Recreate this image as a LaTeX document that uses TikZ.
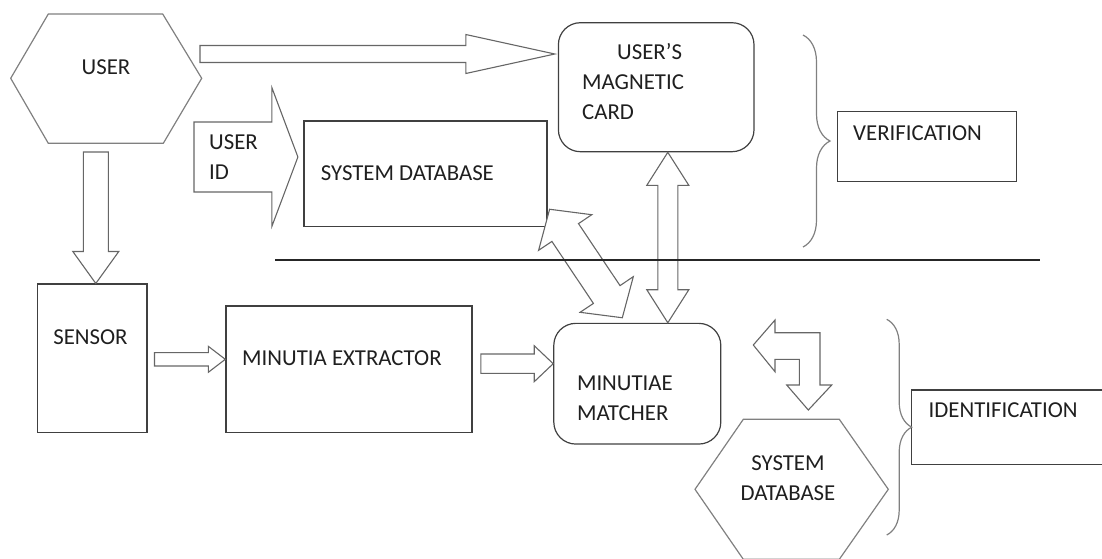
\documentclass[tikz,border=0pt]{standalone}
\usepackage{fontspec}
\setmainfont{Carlito}
\usetikzlibrary{positioning}
\usetikzlibrary{calc}
\usetikzlibrary{decorations.pathreplacing}

% hollow block arrow: tail, tip, shaft half width, head half width, head length
\newcommand{\fatarrow}[5]{%
  \path ($(#2)!#5!(#1)$) coordinate (fa-h);
  \draw[blockarrow] ($(#1)!#3!90:(#2)$) -- ($(fa-h)!#3!-90:(#1)$) -- ($(fa-h)!#4!-90:(#1)$) -- (#2)
    -- ($(fa-h)!#4!90:(#1)$) -- ($(fa-h)!#3!90:(#1)$) -- ($(#1)!#3!-90:(#2)$) -- cycle;
}
% same with a head at both ends
\newcommand{\fatdarrow}[5]{%
  \path ($(#1)!#5!(#2)$) coordinate (fa-a) ($(#2)!#5!(#1)$) coordinate (fa-b);
  \draw[blockarrow] (#1) -- ($(fa-a)!#4!90:(#2)$) -- ($(fa-a)!#3!90:(#2)$) -- ($(fa-b)!#3!-90:(#1)$)
    -- ($(fa-b)!#4!-90:(#1)$) -- (#2) -- ($(fa-b)!#4!90:(#1)$) -- ($(fa-b)!#3!90:(#1)$)
    -- ($(fa-a)!#3!-90:(#2)$) -- ($(fa-a)!#4!-90:(#2)$) -- cycle;
}

\begin{document}
\begin{tikzpicture}[x=1pt,y=-1pt,
    box/.style={draw=black!75, line width=1.2pt, inner sep=0pt},
    rbox/.style={box, rounded corners=22pt},
    txt/.style={text=black!88, font=\fontsize{22.8}{30}\selectfont, inner sep=0pt, align=left, anchor=west},
    blockarrow/.style={draw=black!60, line width=1.1pt, fill=white, line join=miter},
    hexline/.style={draw=black!50, line width=1.2pt},
    bracelines/.style={draw=black!50, line width=1.2pt, decorate}]
    \useasboundingbox (0,0) rectangle (1102,558);

    % user
    \draw[hexline] (10.7,78.3) -- (48.3,14) -- (162.7,14) -- (201.7,78.3) -- (163.3,143.3) -- (48.3,143.3) -- cycle;
    \node[txt, anchor=center] (user) at (106,66.7) {USER};

    % verification part
    \node[rbox, minimum width=195.6pt, minimum height=129pt] (card) at (656.2,87.2) {};
    \node[txt] (cardtext) at (582,81.7) {\hspace*{35pt}USER'S\\MAGNETIC\\CARD};
    \node[box, minimum width=243pt, minimum height=105.7pt] (sysdb) at (425.5,173.8) {};
    \node[txt] (sysdbtext) at (320.7,173) {SYSTEM DATABASE};
    \node[box, minimum width=179.4pt, minimum height=70.2pt] (verif) at (927,146.6) {};
    \node[txt] (veriftext) at (853,133.3) {VERIFICATION};

    % identification part
    \node[box, minimum width=109.5pt, minimum height=148.7pt] (sensor) at (92.3,358.4) {};
    \node[txt, anchor=center] (sensortext) at (90.5,337.3) {SENSOR};
    \node[box, minimum width=246pt, minimum height=126.7pt] (extr) at (348.9,369.4) {};
    \node[txt] (extrtext) at (242,358.3) {MINUTIA EXTRACTOR};
    \node[rbox, minimum width=167pt, minimum height=120.7pt] (matcher) at (637.3,383.7) {};
    \node[txt] (matchertext) at (576.8,398) {MINUTIAE\\MATCHER};
    \draw[hexline] (695,489.3) -- (743.3,419.3) -- (839.3,419.3) -- (888.3,489.3) -- (839.3,559.3) -- (743.3,559.3) -- cycle;
    \node[txt, align=center, anchor=center] (db) at (788,478) {SYSTEM\\DATABASE};
    \node[box, minimum width=220pt, minimum height=74.7pt] (ident) at (1021.7,427.3) {};
    \node[txt] (identtext) at (928.5,410) {IDENTIFICATION};

    % block arrows
    \coordinate (userE) at (200,54);
    \coordinate (cardin) at ($(card.west |- userE)+(-3,0)$);
    \fatarrow{userE}{cardin}{8.5pt}{19.5pt}{89pt}
    \coordinate (userS) at (95.8,152);
    \fatarrow{userS}{sensor.north -| userS}{12.5pt}{23pt}{32pt}
    \coordinate (idtail) at (194,157);
    \coordinate (idtip) at ($(sysdb.west |- idtail)+(-5.5,0)$);
    \fatarrow{idtail}{idtip}{35pt}{69.3pt}{26pt}
    \node[txt] (userid) at (209,157.3) {USER\\ID};
    \coordinate (dgtop) at ($(sysdb.south east)+(2,-18)$);
    \coordinate (dgbot) at ($(matcher.north)+(-15,-5)$);
    \fatdarrow{dgtop}{dgbot}{16pt}{32pt}{28pt}
    \coordinate (vtop) at ($(card.south)+(11.6,0)$);
    \fatdarrow{vtop}{matcher.north -| vtop}{10pt}{21pt}{33pt}
    \coordinate (sensE) at ($(sensor.east)+(6.8,0.9)$);
    \fatarrow{sensE}{extr.west |- sensE}{6.7pt}{13pt}{17pt}
    \coordinate (extrE) at ($(extr.east)+(8.4,-5.7)$);
    \fatarrow{extrE}{matcher.west |- extrE}{9.7pt}{18pt}{19pt}
    \draw[blockarrow] (753.3,345) -- (775,320) -- (775,332.7) -- (820,332.7) -- (820,385) -- (831.7,385)
        -- (808.3,410) -- (786.7,385) -- (799.3,385) -- (799.3,359.3) -- (775,359.3) -- (775,371.7) -- cycle;

    % separator and braces
    \draw[black!85, line width=1.2pt] (275,260) -- (1040,260);
    \draw[bracelines, decoration={brace, amplitude=27pt}] (803,35) -- (803,247);
    \draw[bracelines, decoration={brace, amplitude=25pt}] (886.7,319.3) -- (886.7,535);
\end{tikzpicture}
\end{document}
